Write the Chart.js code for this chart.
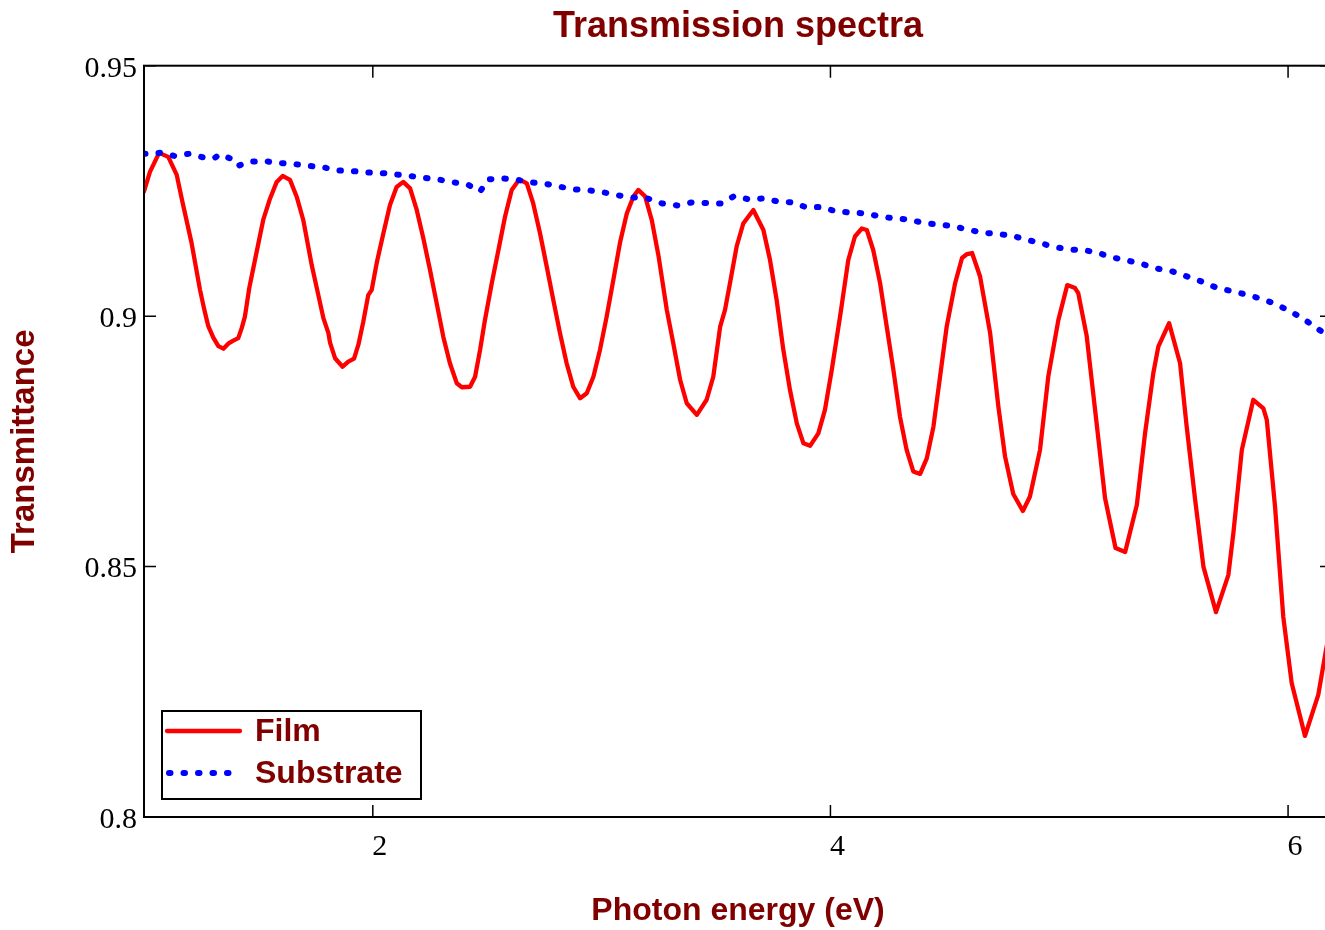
<!DOCTYPE html>
<html>
<head>
<meta charset="utf-8">
<script src="https://cdn.jsdelivr.net/npm/chart.js@4.4.1/dist/chart.umd.min.js"></script>
<style>
  html, body { margin: 0; padding: 0; background: #ffffff; overflow: hidden; width: 1325px; height: 930px; }
  #wrap { position: absolute; left: 0; top: 0; width: 1340px; height: 930px; }
  canvas { display: block; }
</style>
</head>
<body>
<div id="wrap"><canvas id="c" width="1340" height="930" style="width:1340px;height:930px"></canvas></div>
<script>
// ---------- data (photon energy in eV, transmittance) ----------
const filmEnergy = [1.000,1.026,1.066,1.106,1.143,1.169,1.208,1.245,1.264,1.281,
  1.303,1.325,1.347,1.368,1.390,1.412,1.427,1.441,1.460,1.485,
  1.521,1.551,1.580,1.606,1.638,1.667,1.696,1.733,1.762,1.784,
  1.806,1.813,1.835,1.868,1.893,1.918,1.937,1.958,1.980,1.995,
  2.017,2.046,2.075,2.104,2.133,2.163,2.192,2.221,2.250,2.279,
  2.308,2.337,2.367,2.389,2.425,2.447,2.469,2.490,2.520,2.549,
  2.578,2.607,2.640,2.673,2.701,2.731,2.760,2.789,2.818,2.847,
  2.876,2.906,2.935,2.964,2.993,3.022,3.051,3.080,3.110,3.139,
  3.160,3.190,3.219,3.248,3.285,3.313,3.343,3.372,3.416,3.459,
  3.488,3.518,3.539,3.561,3.590,3.619,3.663,3.707,3.736,3.765,
  3.794,3.823,3.853,3.882,3.911,3.947,3.976,4.006,4.042,4.078,
  4.107,4.137,4.159,4.187,4.217,4.246,4.275,4.304,4.333,4.362,
  4.392,4.421,4.450,4.479,4.508,4.545,4.575,4.597,4.619,4.654,
  4.698,4.734,4.763,4.799,4.841,4.872,4.916,4.952,4.996,5.035,
  5.069,5.083,5.120,5.164,5.200,5.246,5.288,5.339,5.375,5.411,
  5.433,5.480,5.528,5.557,5.594,5.630,5.685,5.739,5.761,5.798,
  5.848,5.892,5.907,5.943,5.979,6.016,6.074,6.132,6.166,6.201];
const filmTransmittance = [0.9249,0.9288,0.9326,0.9318,0.9282,0.9226,0.9146,0.9052,0.9012,0.8980,
  0.8957,0.8940,0.8935,0.8945,0.8951,0.8956,0.8976,0.8999,0.9056,0.9112,
  0.9192,0.9235,0.9268,0.9280,0.9272,0.9239,0.9192,0.9102,0.9042,0.8996,
  0.8966,0.8947,0.8916,0.8899,0.8909,0.8915,0.8943,0.8988,0.9042,0.9052,
  0.9106,0.9165,0.9222,0.9258,0.9268,0.9255,0.9212,0.9155,0.9092,0.9026,
  0.8959,0.8906,0.8866,0.8858,0.8859,0.8879,0.8933,0.8992,0.9066,0.9132,
  0.9199,0.9252,0.9273,0.9265,0.9225,0.9165,0.9099,0.9032,0.8966,0.8906,
  0.8859,0.8836,0.8846,0.8879,0.8933,0.8999,0.9072,0.9146,0.9205,0.9239,
  0.9252,0.9239,0.9192,0.9122,0.9012,0.8946,0.8873,0.8826,0.8803,0.8833,
  0.8879,0.8979,0.9012,0.9066,0.9139,0.9185,0.9212,0.9172,0.9112,0.9032,
  0.8933,0.8853,0.8786,0.8746,0.8741,0.8766,0.8813,0.8893,0.8999,0.9112,
  0.9159,0.9175,0.9172,0.9132,0.9066,0.8979,0.8893,0.8799,0.8733,0.8690,
  0.8685,0.8716,0.8779,0.8879,0.8979,0.9066,0.9116,0.9124,0.9126,0.9079,
  0.8966,0.8819,0.8720,0.8645,0.8611,0.8640,0.8733,0.8879,0.8992,0.9062,
  0.9056,0.9046,0.8960,0.8783,0.8637,0.8537,0.8529,0.8623,0.8766,0.8886,
  0.8939,0.8986,0.8906,0.8779,0.8633,0.8500,0.8409,0.8483,0.8567,0.8733,
  0.8833,0.8816,0.8793,0.8620,0.8400,0.8267,0.8162,0.8244,0.8334,0.8414];

const substrateEnergy = [1.000,1.070,1.132,1.195,1.258,1.305,1.333,1.382,1.410,1.459,
  1.521,1.581,1.650,1.714,1.777,1.841,1.905,1.968,2.031,2.097,
  2.160,2.224,2.286,2.352,2.413,2.469,2.505,2.566,2.632,2.694,
  2.757,2.821,2.884,2.946,3.010,3.075,3.139,3.201,3.264,3.331,
  3.394,3.456,3.521,3.580,3.644,3.707,3.770,3.834,3.896,3.962,
  4.025,4.089,4.154,4.217,4.279,4.342,4.406,4.469,4.534,4.597,
  4.661,4.727,4.789,4.854,4.916,4.979,5.043,5.108,5.171,5.234,
  5.299,5.362,5.426,5.489,5.553,5.617,5.681,5.743,5.808,5.872,
  5.936,5.999,6.063,6.125,6.188];
const substrateTransmittance = [0.9324,0.9326,0.9320,0.9324,0.9317,0.9315,0.9323,0.9314,0.9300,0.9308,
  0.9310,0.9306,0.9304,0.9300,0.9298,0.9291,0.9290,0.9287,0.9286,0.9283,
  0.9280,0.9276,0.9273,0.9267,0.9263,0.9249,0.9273,0.9275,0.9272,0.9267,
  0.9264,0.9258,0.9253,0.9251,0.9247,0.9241,0.9237,0.9235,0.9225,0.9221,
  0.9227,0.9226,0.9225,0.9240,0.9233,0.9235,0.9229,0.9227,0.9217,0.9218,
  0.9209,0.9207,0.9205,0.9199,0.9195,0.9193,0.9186,0.9183,0.9180,0.9173,
  0.9167,0.9164,0.9161,0.9153,0.9146,0.9138,0.9133,0.9132,0.9126,0.9117,
  0.9111,0.9104,0.9095,0.9090,0.9080,0.9070,0.9058,0.9051,0.9044,0.9036,
  0.9026,0.9012,0.8996,0.8976,0.8957];

const seriesNames = ['Film', 'Substrate'];
const xTickValues = [2, 4, 6];
const xTickLabels = ['2', '4', '6'];
const yTickValues = [0.8, 0.85, 0.9, 0.95];
const yTickLabels = ['0.8', '0.85', '0.9', '0.95'];
const xRange = [1.0, 6.192];
const yRange = [0.8, 0.95];

const titleText = 'Transmission spectra';
const xTitleText = 'Photon energy (eV)';
const yTitleText = 'Transmittance';

// ---------- styling ----------
const DARK_RED = '#800000';
const SANS = '"Liberation Sans", Arial, sans-serif';
const SERIF = '"Liberation Serif", "Times New Roman", serif';

function toPoints(xs, ys) {
  const n = Math.min(xs.length, ys.length);
  const out = [];
  for (let i = 0; i < n; i++) out.push({x: xs[i], y: ys[i]});
  return out;
}

// Frame and inward tick marks on all four sides
const framePlugin = {
  id: 'frameTicks',
  afterDatasetsDraw(chart) {
    const {ctx, chartArea: a, scales} = chart;
    const xs = scales.x, ys = scales.y;
    const len = 12;
    ctx.save();
    ctx.strokeStyle = '#000';
    ctx.lineWidth = 2;
    ctx.strokeRect(a.left, a.top, a.right - a.left, a.bottom - a.top);
    ctx.lineWidth = 1.5;
    ctx.beginPath();
    xs.ticks.forEach(t => {
      const px = xs.getPixelForValue(t.value);
      ctx.moveTo(px, a.bottom); ctx.lineTo(px, a.bottom - len);
      ctx.moveTo(px, a.top); ctx.lineTo(px, a.top + len);
    });
    ys.ticks.forEach(t => {
      const py = ys.getPixelForValue(t.value);
      ctx.moveTo(a.left, py); ctx.lineTo(a.left + len, py);
      ctx.moveTo(a.right, py); ctx.lineTo(a.right - len, py);
    });
    ctx.stroke();
    ctx.restore();
  }
};

// Boxed legend in the lower-left corner of the plot
const legendPlugin = {
  id: 'boxLegend',
  afterDraw(chart) {
    const {ctx, chartArea: a} = chart;
    const w = 259, h = 88;
    const left = a.left + 18, top = a.bottom - 18 - h;
    ctx.save();
    ctx.fillStyle = '#fff';
    ctx.fillRect(left, top, w, h);
    ctx.strokeStyle = '#000';
    ctx.lineWidth = 2;
    ctx.strokeRect(left, top, w, h);
    const rows = [{lineY: top + 20, baseY: top + 30}, {lineY: top + 62, baseY: top + 72}];
    chart.data.datasets.forEach((ds, i) => {
      const r = rows[i];
      if (!r) return;
      const dashed = ds.borderDash && ds.borderDash.length;
      ctx.save();
      ctx.strokeStyle = ds.borderColor;
      ctx.lineWidth = ds.borderWidth;
      ctx.lineCap = ds.borderCapStyle || 'butt';
      ctx.setLineDash(ds.borderDash || []);
      ctx.beginPath();
      ctx.moveTo(dashed ? left + 7 : left + 5, r.lineY);
      ctx.lineTo(dashed ? left + 70 : left + 78, r.lineY);
      ctx.stroke();
      ctx.restore();
      ctx.fillStyle = DARK_RED;
      ctx.font = 'bold 32px ' + SANS;
      ctx.textAlign = 'left';
      ctx.textBaseline = 'alphabetic';
      ctx.fillText(ds.label, left + 93, r.baseY);
    });
    ctx.restore();
  }
};

const chart = new Chart(document.getElementById('c'), {
  type: 'line',
  data: {
    datasets: [
      {
        label: seriesNames[0],
        data: toPoints(filmEnergy, filmTransmittance),
        borderColor: '#ff0000',
        backgroundColor: '#ff0000',
        borderWidth: 4.3,
        borderJoinStyle: 'round',
        borderCapStyle: 'round',
        pointRadius: 0,
        tension: 0,
        fill: false,
        order: 2
      },
      {
        label: seriesNames[1],
        data: toPoints(substrateEnergy, substrateTransmittance),
        borderColor: '#0000ff',
        backgroundColor: '#0000ff',
        borderWidth: 6,
        borderDash: [1.5, 13],
        borderCapStyle: 'round',
        borderJoinStyle: 'round',
        pointRadius: 0,
        tension: 0,
        fill: false,
        order: 1
      }
    ]
  },
  options: {
    responsive: false,
    devicePixelRatio: 1,
    animation: false,
    layout: { padding: { left: 0, right: 8, top: 0, bottom: 0 } },
    plugins: {
      legend: { display: false },
      tooltip: { enabled: false },
      title: {
        display: true,
        text: titleText,
        color: DARK_RED,
        fullSize: false,
        font: { family: SANS, size: 36, weight: 'bold', lineHeight: 1.2 },
        padding: { top: 5.2, bottom: 17.3 }
      }
    },
    scales: {
      x: {
        type: 'linear',
        min: xRange[0],
        max: xRange[1],
        grid: { display: false, drawTicks: false },
        border: { display: false },
        afterBuildTicks: s => { s.ticks = xTickValues.map(v => ({value: v})); },
        afterFit: s => { s.height = 113; },
        ticks: {
          color: '#000',
          padding: 12,
          labelOffset: 7,
          maxRotation: 0,
          autoSkip: false,
          font: { family: SERIF, size: 30, lineHeight: 1.2 },
          callback: (v, i) => xTickLabels[i]
        },
        title: {
          display: true,
          text: xTitleText,
          color: DARK_RED,
          font: { family: SANS, size: 32, weight: 'bold', lineHeight: 1.2 },
          padding: { top: 0, bottom: 0 }
        }
      },
      y: {
        type: 'linear',
        min: yRange[0],
        max: yRange[1],
        grid: { display: false, drawTicks: false },
        border: { display: false },
        afterBuildTicks: s => { s.ticks = yTickValues.map(v => ({value: v})); },
        afterFit: s => { s.width = 144; },
        ticks: {
          color: '#000',
          padding: 7,
          labelOffset: 3,
          autoSkip: false,
          font: { family: SERIF, size: 30, lineHeight: 1.2 },
          callback: (v, i) => yTickLabels[i]
        },
        title: {
          display: true,
          text: yTitleText,
          color: DARK_RED,
          font: { family: SANS, size: 33, weight: 'bold', lineHeight: 1.2 },
          padding: { top: 5.5, bottom: 0 }
        }
      }
    }
  },
  plugins: [framePlugin, legendPlugin]
});
</script>
</body>
</html>
